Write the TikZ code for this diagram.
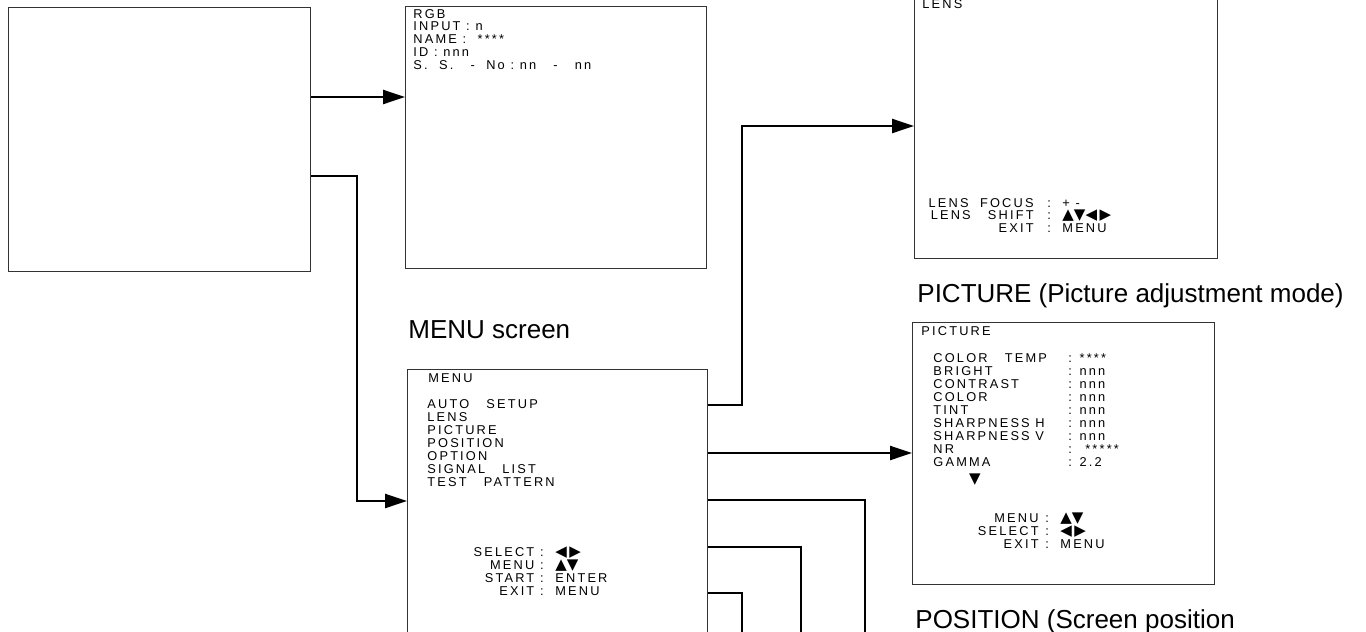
\documentclass[tikz,border=0pt]{standalone}
\usepackage{fontspec}
\setmainfont{Liberation Sans}
\newfontfamily\scrfont[LetterSpace=17]{Liberation Sans}
\newfontfamily\symfont{DejaVu Sans}
\usetikzlibrary{arrows.meta}
\newcommand{\keys}[1]{{\symfont\fontsize{7.5}{6.5}\selectfont #1}}

\begin{document}
\begin{tikzpicture}[x=0.5pt,y=-0.5pt,>={Triangle[length=11pt,width=7pt]},
  screen/.style={draw=black!80,line width=0.7pt,anchor=north west,inner sep=0pt},
  scr/.style={font=\scrfont\fontsize{6.4}{6.5}\selectfont,inner sep=0pt},
  title/.style={font=\fontsize{13}{15}\selectfont,inner sep=0pt,anchor=base west},
  conn/.style={line width=1.2pt}]
  \clip (0,0) rectangle (1366,632);

  \node[screen,minimum width=151pt,minimum height=132pt] (src) at (8,7) {};
  \node[screen,minimum width=150.5pt,minimum height=131pt] (rgb) at (405,6) {};
  \node[screen,minimum width=150pt,minimum height=145pt] (menu) at (407,369) {};
  \node[screen,minimum width=151.5pt,minimum height=136pt] (lens) at (914,-14) {};
  \node[screen,minimum width=151pt,minimum height=131pt] (pict) at (912,322) {};

  \node[title] (menu-cap) at (408,338) {MENU screen};
  \node[title] (pict-cap) at (917,302) {PICTURE (Picture adjustment mode)};
  \node[title] (pos-cap) at (915,628) {POSITION (Screen position};

  % RGB screen
  \foreach \t [count=\i] in {RGB, INPUT\ :\ n, NAME\ :\ \ ****, ID\ :\ nnn, S.\ \ S.\ \ \ -\ \ No\ :\ nn\ \ \ -\ \ \ nn}
    \node[scr,anchor=base west] (rgb-\i) at (413,{18+12.8*(\i-1)}) {\t};

  % MENU screen
  \node[scr,anchor=base west] (menu-0) at (428,382) {MENU};
  \foreach \t [count=\i] in {AUTO\ \ \ SETUP, LENS, PICTURE, POSITION, OPTION, SIGNAL\ \ \ LIST, TEST\ \ \ PATTERN}
    \node[scr,anchor=base west] (menu-\i) at (427,{408+13*(\i-1)}) {\t};
  \foreach \l/\v [count=\i] in {SELECT/\keys{◀\,▶}, MENU/\keys{▲▼}, START/ENTER, EXIT/MENU}{
    \node[scr,anchor=base east] (mkey-\i) at (544,{556+13*(\i-1)}) {\l\ :};
    \node[scr,anchor=base west] (mval-\i) at (555,{556+13*(\i-1)}) {\v};
  }

  % LENS screen
  \node[scr,anchor=base west] (lens-0) at (922,8) {LENS};
  \foreach \l/\v [count=\i] in {LENS\ \ FOCUS/+\ -, LENS\ \ \ SHIFT/\keys{▲▼◀\,▶}, EXIT/MENU}{
    \node[scr,anchor=base east] (lkey-\i) at (1034,{207+12.5*(\i-1)}) {\l};
    \node[scr,anchor=base west] (lval-\i) at (1047,{207+12.5*(\i-1)}) {:\ \ \v};
  }

  % PICTURE screen
  \node[scr,anchor=base west] (pict-0) at (921,335) {PICTURE};
  \foreach \l/\v [count=\i] in {COLOR\ \ \ TEMP/****, BRIGHT/nnn, CONTRAST/nnn, COLOR/nnn, TINT/nnn,
      SHARPNESS H/nnn, SHARPNESS V/nnn, NR/\ *****, GAMMA/2.2}{
    \node[scr,anchor=base west] (pkey-\i) at (933,{362+13.1*(\i-1)}) {\l};
    \node[scr,anchor=base west] (pval-\i) at (1068,{362+13.1*(\i-1)}) {: \v};
  }
  \node[scr] (pict-more) at (975,480) {\keys{▼}};
  \foreach \l/\v [count=\i] in {MENU/\keys{▲▼}, SELECT/\keys{◀\,▶}, EXIT/MENU}{
    \node[scr,anchor=base east] (psel-\i) at (1039,{522+13*(\i-1)}) {\l};
    \node[scr,anchor=base west] (pkv-\i) at (1045,{522+13*(\i-1)}) {:\ \ \v};
  }

  % connectors
  \coordinate (opt-end) at (865,640);
  \coordinate (sig-end) at (801,640);
  \coordinate (tst-end) at (742,640);
  \draw[conn,->] (src.east |- 0,97) -- (rgb.west |- 0,97);
  \draw[conn,->] (src.east |- 0,176) -- (357,176) |- (menu.west |- 0,501);
  \draw[conn,->] (menu.east |- 0,405) -- (742,405) |- (lens.west |- 0,126);
  \draw[conn,->] (menu.east |- 0,453) -- (pict.west |- 0,453);
  \draw[conn] (menu.east |- 0,500) -| (opt-end);
  \draw[conn] (menu.east |- 0,547) -| (sig-end);
  \draw[conn] (menu.east |- 0,593) -| (tst-end);
\end{tikzpicture}
\end{document}
